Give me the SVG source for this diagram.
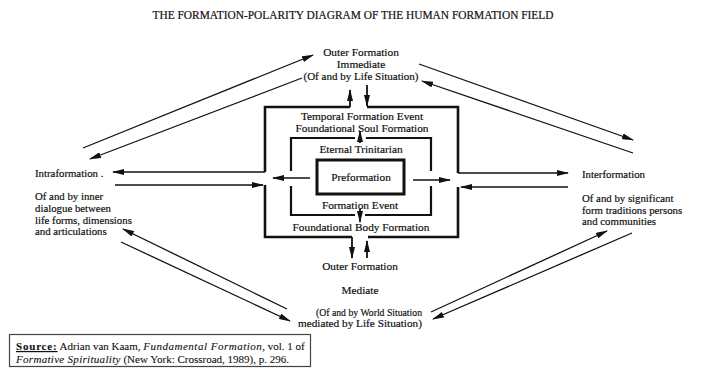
<svg xmlns="http://www.w3.org/2000/svg" width="705" height="369" viewBox="0 0 705 369">
<defs>
<marker id="ah" markerUnits="userSpaceOnUse" markerWidth="12" markerHeight="6" refX="11" refY="3" orient="auto">
<path d="M0,0 L12,3 L0,6 z" fill="#111"/>
</marker>
<style>
text{font-family:"Liberation Serif","Times New Roman",serif;fill:#111;font-size:10.8px;stroke:#111;stroke-width:0.2}
.c{text-anchor:middle}
.b{font-size:11.3px}
.box{fill:none;stroke:#111;stroke-width:2.6;stroke-linejoin:miter}
.mid{fill:none;stroke:#111;stroke-width:2.2}
.arr{fill:none;stroke:#111;stroke-width:1.3;marker-end:url(#ah)}
.varr{fill:none;stroke:#111;stroke-width:1.8;marker-end:url(#ah)}
</style>
</defs>
<rect width="705" height="369" fill="#fff"/>
<g id="title"><text x="353" y="19" class="c" textLength="401" lengthAdjust="spacingAndGlyphs" style="font-size:11.5px">THE FORMATION-POLARITY DIAGRAM OF THE HUMAN FORMATION FIELD</text></g>
<g id="outer-immediate">
<text x="361" y="56" class="c b">Outer Formation</text>
<text x="361" y="68" class="c b">Immediate</text>
<text x="361" y="80" class="c b" textLength="115" lengthAdjust="spacingAndGlyphs">(Of and by Life Situation)</text>
</g>
<g id="intraformation">
<text x="35" y="177">Intraformation .</text>
<text x="35" y="200">Of and by inner</text>
<text x="35" y="212">dialogue between</text>
<text x="35" y="224">life forms, dimensions</text>
<text x="35" y="235">and articulations</text>
</g>
<g id="interformation">
<text x="582" y="178">Interformation</text>
<text x="582" y="202">Of and by significant</text>
<text x="582" y="214">form traditions persons</text>
<text x="582" y="225">and communities</text>
</g>
<g id="outer-mediate">
<text x="360" y="270" class="c b">Outer Formation</text>
<text x="360" y="294" class="c b">Mediate</text>
<text x="369" y="316" class="c b" textLength="106" lengthAdjust="spacingAndGlyphs">(Of and by World Situation</text>
<text x="360" y="327" class="c b" textLength="124" lengthAdjust="spacingAndGlyphs">mediated by Life Situation)</text>
</g>
<g id="temporal-box">
<path class="box" d="M350,107 H265 V172"/>
<path class="box" d="M367,107 H458 V173"/>
<path class="box" d="M265,185 V237 H352"/>
<path class="box" d="M368,237 H458 V187"/>
<text x="362" y="120" class="c b">Temporal Formation Event</text>
<text x="362" y="132" class="c b">Foundational Soul Formation</text>
<text x="361" y="231" class="c b">Foundational Body Formation</text>
</g>
<g id="eternal-box">
<path class="mid" d="M355,138 H291 V171"/>
<path class="mid" d="M366,138 H431 V171"/>
<path class="mid" d="M291,186 V215 H355"/>
<path class="mid" d="M365,215 H431 V186"/>
<text x="361" y="153" class="c b">Eternal Trinitarian</text>
<text x="360" y="209" class="c b">Formation Event</text>
</g>
<g id="preformation">
<rect x="317" y="160" width="87" height="34" fill="none" stroke="#111" stroke-width="3"/>
<text x="361" y="181" class="c b">Preformation</text>
</g>
<g id="connectors">
<path class="varr" d="M350,107 V90"/>
<path class="varr" d="M367,85 V106"/>
<path class="varr" d="M352,237 V258"/>
<path class="varr" d="M367,258 V241"/>
<path class="varr" d="M360,143 V131"/>
<path class="varr" d="M360,209 V222"/>
<path class="arr" d="M310,178 H273"/>
<path class="arr" d="M413,180 H450"/>
<path class="arr" d="M265,172 H113"/>
<path class="arr" d="M115,185 H263"/>
<path class="arr" d="M458,173 H568"/>
<path class="arr" d="M568,187 H461"/>
<path class="arr" d="M83,148 L313,55"/>
<path class="arr" d="M302,78 L90,159"/>
<path class="arr" d="M419,64 L633,140"/>
<path class="arr" d="M633,153 L422,81"/>
<path class="arr" d="M287,309 L123,229"/>
<path class="arr" d="M121,242 L290,321"/>
<path class="arr" d="M431,312 L607,231"/>
<path class="arr" d="M632,233 L433,319"/>
</g>
<g id="source">
<rect x="9.5" y="334.5" width="301" height="32" fill="#fff" stroke="#444" stroke-width="1.2"/>
<text x="16" y="350" style="font-size:11px;stroke-width:0.1"><tspan font-weight="bold" text-decoration="underline" letter-spacing="0.8">Source:</tspan> Adrian van Kaam, <tspan font-style="italic" letter-spacing="0.5">Fundamental Formation</tspan>, vol. 1 of</text>
<text x="16" y="363" style="font-size:11px;stroke-width:0.1"><tspan font-style="italic" letter-spacing="0.3">Formative Spirituality</tspan> (New York: Crossroad, 1989), p. 296.</text>
</g>
</svg>
